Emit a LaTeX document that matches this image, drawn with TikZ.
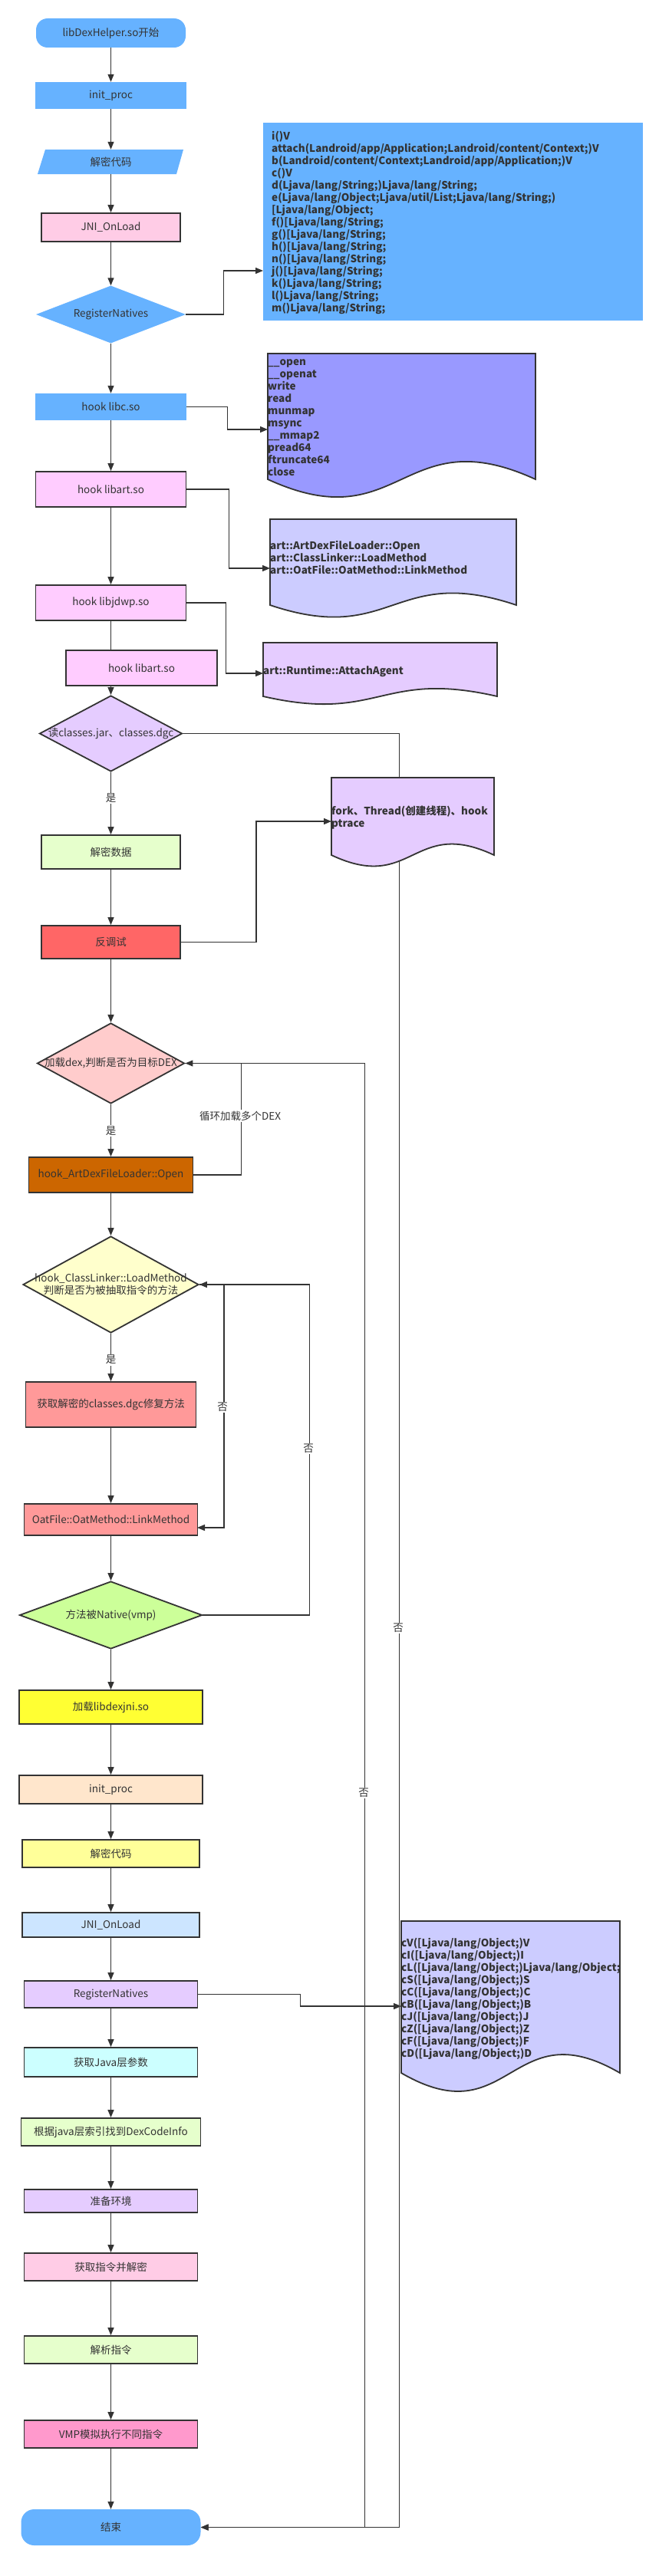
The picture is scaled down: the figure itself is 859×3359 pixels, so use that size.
\documentclass[tikz,border=0pt]{standalone}
\usepackage{fontspec}
\setmainfont{Noto Sans CJK SC}
\usetikzlibrary{arrows.meta,shapes.geometric}
\definecolor{bl}{HTML}{66B2FF}
\definecolor{bd}{HTML}{333333}
\definecolor{txt}{HTML}{333333}
\definecolor{pkA}{HTML}{FFCCE6}
\definecolor{pkB}{HTML}{FFCCFF}
\definecolor{vio}{HTML}{9999FF}
\definecolor{lav}{HTML}{CCCCFF}
\definecolor{lil}{HTML}{E5CCFF}
\definecolor{lgr}{HTML}{E6FFCC}
\definecolor{red}{HTML}{FF6666}
\definecolor{ros}{HTML}{FFCCCC}
\definecolor{org}{HTML}{CC6600}
\definecolor{lye}{HTML}{FFFFCC}
\definecolor{sal}{HTML}{FF9999}
\definecolor{lim}{HTML}{CCFF99}
\definecolor{yel}{HTML}{FFFF33}
\definecolor{pea}{HTML}{FFE6CC}
\definecolor{pye}{HTML}{FFFF99}
\definecolor{sky}{HTML}{CCE5FF}
\definecolor{cya}{HTML}{CCFFFF}
\definecolor{hot}{HTML}{FF99CC}
\begin{document}
\begin{tikzpicture}[x=1pt,y=-1pt,
  lbl/.style={text=txt,font=\fontsize{13.5}{16}\selectfont,inner sep=0pt,align=center},
  nbox/.style={lbl,rectangle},
  box/.style={lbl,rectangle,draw=bd,line width=1.8pt},
  dmd/.style={diamond,draw=bd,line width=1.8pt,inner sep=0pt},
  conn/.style={draw=bd,line width=1.3pt},
  arr/.style={conn,-{Triangle[length=10pt,width=8pt]}},
  elab/.style={lbl,fill=white,inner sep=1.5pt},
  ltxt/.style={text=txt,font=\bfseries\fontsize{13.5}{16}\selectfont,align=left,inner sep=0pt,anchor=north west},
  docb/.style={draw=bd,line width=1.8pt}
]
\useasboundingbox (0,0) rectangle (859,3359);
\fill[white] (0,0) rectangle (859,3359);

% ---------- main column ----------
\node[nbox,fill=bl,rounded corners=15pt,minimum width=195pt,minimum height=38pt] (start) at (144.5,43) {libDexHelper.so开始};
\node[nbox,fill=bl,minimum width=197pt,minimum height=35pt] (init1) at (144.5,124.5) {init\_proc};
\fill[bl] (59,195) -- (239,195) -- (230,227) -- (49,227) -- cycle;
\node[lbl,minimum width=180pt,minimum height=32pt] (dec1) at (144.5,211) {解密代码};
\node[box,fill=pkA,minimum width=181pt,minimum height=37pt] (jni1) at (144.5,296.5) {JNI\_OnLoad};
\node[diamond,fill=bl,inner sep=0pt,minimum width=195pt,minimum height=75pt] (rn1) at (144.5,410) {};
\node[lbl] (rn1t) at (rn1) {RegisterNatives};
\node[nbox,fill=bl,minimum width=197pt,minimum height=35pt] (libc) at (144.5,530.5) {hook libc.so};
\node[box,fill=pkB,minimum width=196pt,minimum height=46pt] (libart1) at (144.5,638) {hook libart.so};
\node[box,fill=pkB,minimum width=196pt,minimum height=46pt] (libjdwp) at (144.5,786) {hook libjdwp.so};
\node[box,fill=pkB,minimum width=197pt,minimum height=46pt] (libart2) at (184.5,871) {hook libart.so};
\node[dmd,fill=lil,minimum width=186pt,minimum height=99pt] (dread) at (144.5,956.5) {};
\node[lbl] (dreadt) at (dread) {读classes.jar、classes.dgc};
\node[box,fill=lgr,minimum width=181pt,minimum height=44pt] (decdata) at (144.5,1111) {解密数据};
\node[box,fill=red,minimum width=181pt,minimum height=43pt] (anti) at (144.5,1228.5) {反调试};
\node[dmd,fill=ros,minimum width=192pt,minimum height=105pt] (ddex) at (144.5,1386.5) {};
\node[lbl] (ddext) at (ddex) {加载dex,判断是否为目标DEX};
\node[box,fill=org,minimum width=214pt,minimum height=46pt] (artdex) at (144.5,1532) {hook\_ArtDexFileLoader::Open};
\node[dmd,fill=lye,minimum width=229pt,minimum height=126pt] (dcl) at (144.5,1675) {};
\node[lbl] (dclt) at (dcl) {hook\_ClassLinker::LoadMethod\\判断是否为被抽取指令的方法};
\node[box,fill=sal,minimum width=222pt,minimum height=59pt] (getfix) at (144.5,1831.5) {获取解密的classes.dgc修复方法};
\node[box,fill=sal,minimum width=226pt,minimum height=41pt] (oat) at (144.5,1981.5) {OatFile::OatMethod::LinkMethod};
\node[dmd,fill=lim,minimum width=238pt,minimum height=88pt] (dnat) at (144.5,2106) {};
\node[lbl] (dnatt) at (dnat) {方法被Native(vmp)};
\node[box,fill=yel,minimum width=239pt,minimum height=44pt] (loadjni) at (144.5,2226) {加载libdexjni.so};
\node[box,fill=pea,minimum width=239pt,minimum height=37pt] (init2) at (144.5,2333.5) {init\_proc};
\node[box,fill=pye,minimum width=231pt,minimum height=36pt] (dec2) at (144.5,2417) {解密代码};
\node[box,fill=sky,minimum width=231pt,minimum height=32pt] (jni2) at (144.5,2510) {JNI\_OnLoad};
\node[box,fill=lil,minimum width=226pt,minimum height=35pt] (rn2) at (144.5,2600.5) {RegisterNatives};
\node[box,fill=cya,minimum width=226pt,minimum height=38pt] (getjava) at (144.5,2689) {获取Java层参数};
\node[box,fill=lgr,minimum width=234pt,minimum height=36pt] (dexcode) at (144.5,2780) {根据java层索引找到DexCodeInfo};
\node[box,fill=lil,minimum width=226pt,minimum height=30pt] (prep) at (144.5,2870) {准备环境};
\node[box,fill=pkA,minimum width=226pt,minimum height=36pt] (getins) at (144.5,2956) {获取指令并解密};
\node[box,fill=lgr,minimum width=226pt,minimum height=36pt] (parse) at (144.5,3064) {解析指令};
\node[box,fill=hot,minimum width=226pt,minimum height=36pt] (vmp) at (144.5,3174) {VMP模拟执行不同指令};
\node[nbox,fill=bl,rounded corners=17pt,minimum width=234pt,minimum height=47pt] (end) at (144.5,3295.5) {结束};

% ---------- target coordinates ----------
\coordinate (l1in) at (343,353);
\coordinate (d1in) at (349,560);
\coordinate (d2in) at (352,741);
\coordinate (d3in) at (343,878);
\coordinate (fkin) at (432,1071);
\coordinate (oatin) at (257,1992);
\coordinate (d4in) at (523,2616);

% ---------- main edges ----------
\draw[arr] (start.south) -- (init1.north);
\draw[arr] (init1.south) -- (dec1.north);
\draw[arr] (dec1.south) -- (jni1.north);
\draw[arr] (jni1.south) -- (rn1.north);
\draw[arr] (rn1.south) -- (libc.north);
\draw[arr] (libc.south) -- (libart1.north);
\draw[arr] (libart1.south) -- (libjdwp.north);
\draw[conn] (libjdwp.south) -- (libjdwp.south |- libart2.north);
\draw[arr] (libart2.south -| dread.north) -- (dread.north);
\draw[arr] (dread.south) -- (decdata.north) node[elab,pos=0.42] (ly1) {是};
\draw[arr] (decdata.south) -- (anti.north);
\draw[arr] (anti.south) -- (ddex.north);
\draw[arr] (ddex.south) -- (artdex.north) node[elab,pos=0.51] (ly2) {是};
\draw[arr] (artdex.south) -- (dcl.north);
\draw[arr] (dcl.south) -- (getfix.north) node[elab,pos=0.55] (ly3) {是};
\draw[arr] (getfix.south) -- (oat.north);
\draw[arr] (oat.south) -- (dnat.north);
\draw[arr] (dnat.south) -- (loadjni.north);
\draw[arr] (loadjni.south) -- (init2.north);
\draw[arr] (init2.south) -- (dec2.north);
\draw[arr] (dec2.south) -- (jni2.north);
\draw[arr] (jni2.south) -- (rn2.north);
\draw[arr] (rn2.south) -- (getjava.north);
\draw[arr] (getjava.south) -- (dexcode.north);
\draw[arr] (dexcode.south) -- (prep.north);
\draw[arr] (prep.south) -- (getins.north);
\draw[arr] (getins.south) -- (parse.north);
\draw[arr] (parse.south) -- (vmp.north);
\draw[arr] (vmp.south) -- (end.north);

% ---------- side edges ----------
\draw[arr] (rn1.east) -- ++(49,0) |- (l1in);
\draw[arr] (libc.east) -- ++(53,0) |- (d1in);
\draw[arr] (libart1.east) -- ++(55,0) |- (d2in);
\draw[arr] (libjdwp.east) -- ++(51,0) |- (d3in);
\draw[arr] (anti.east) -- ++(98,0) |- (fkin);
\draw[arr] (dread.east) -- ++(282,0) |- (end.east);
\draw[arr] (ddex.east) -- ++(234,0) |- (end.east);
\draw[arr] (artdex.east) -- ++(62,0) |- (ddex.east);
\draw[arr] (dcl.east) -- ++(32,0) |- (oatin);
\draw[arr] (dnat.east) -- ++(139,0) |- (dcl.east);
\draw[arr] (rn2.east) -- ++(133,0) |- (d4in);
\node[elab] (lloop) at (313,1455) {循环加载多个DEX};
\node[elab] (ln1) at (519,2123) {否};
\node[elab] (ln2) at (474,2338) {否};
\node[elab] (ln3) at (290,1835) {否};
\node[elab] (ln4) at (402,1889) {否};

% ---------- documents ----------
\fill[bl] (343,160) rectangle (838,418);
\node[ltxt] (t1) at (354,171) {i()V\\attach(Landroid/app/Application;Landroid/content/Context;)V\\b(Landroid/content/Context;Landroid/app/Application;)V\\c()V\\d(Ljava/lang/String;)Ljava/lang/String;\\e(Ljava/lang/Object;Ljava/util/List;Ljava/lang/String;)\\{}[Ljava/lang/Object;\\f()[Ljava/lang/String;\\g()[Ljava/lang/String;\\h()[Ljava/lang/String;\\n()[Ljava/lang/String;\\j()[Ljava/lang/String;\\k()Ljava/lang/String;\\l()Ljava/lang/String;\\m()Ljava/lang/String;};

\path[docb,fill=vio] (349,461) -- (698,461) -- (698,625) .. controls (523.5,545) and (523.5,705) .. (349,625) -- cycle;
\node[ltxt] (t2) at (349,468) {\_\_open\\\_\_openat\\write\\read\\munmap\\msync\\\_\_mmap2\\pread64\\ftruncate64\\close};

\path[docb,fill=lav] (352,677) -- (673,677) -- (673,789) .. controls (512.5,735) and (512.5,843) .. (352,789) -- cycle;
\node[ltxt] (t3) at (352,705) {art::ArtDexFileLoader::Open\\art::ClassLinker::LoadMethod\\art::OatFile::OatMethod::LinkMethod};

\path[docb,fill=lil] (343,838) -- (648,838) -- (648,908) .. controls (495.5,873) and (495.5,943) .. (343,908) -- cycle;
\node[ltxt] (t4) at (343,868) {art::Runtime::AttachAgent};

\path[docb,fill=lil] (432,1014) -- (644,1014) -- (644,1115) .. controls (538,1065) and (538,1165) .. (432,1115) -- cycle;
\node[ltxt] (t5) at (432,1051) {fork、Thread(创建线程)、hook\\ptrace};

\path[docb,fill=lav] (523,2505) -- (808,2505) -- (808,2703) .. controls (665.5,2620) and (665.5,2786) .. (523,2703) -- cycle;
\node[ltxt] (t6) at (523,2527) {cV([Ljava/lang/Object;)V\\cI([Ljava/lang/Object;)I\\cL([Ljava/lang/Object;)Ljava/lang/Object;\\cS([Ljava/lang/Object;)S\\cC([Ljava/lang/Object;)C\\cB([Ljava/lang/Object;)B\\cJ([Ljava/lang/Object;)J\\cZ([Ljava/lang/Object;)Z\\cF([Ljava/lang/Object;)F\\cD([Ljava/lang/Object;)D};
\end{tikzpicture}
\end{document}
